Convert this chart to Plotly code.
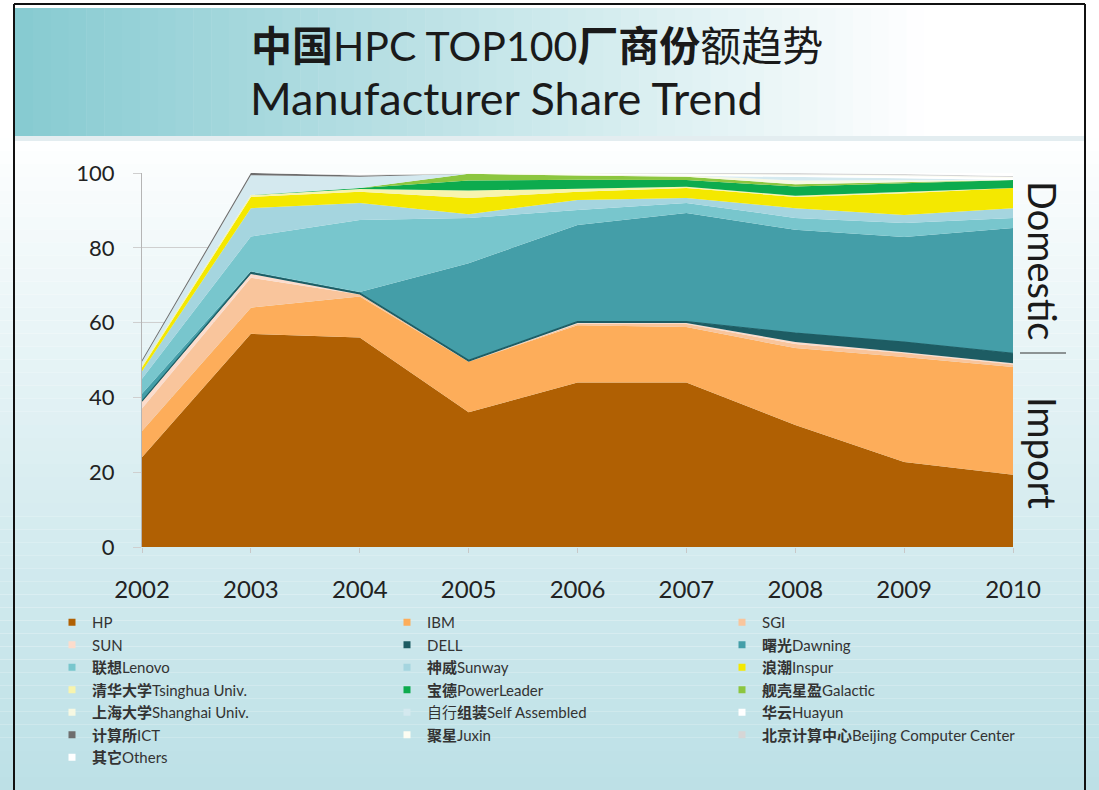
import plotly.graph_objects as go

# ---------------- data ----------------
years = [2002, 2003, 2004, 2005, 2006, 2007, 2008, 2009, 2010]
y_ticks = [0, 20, 40, 60, 80, 100]

hp          = [24.0, 57.0, 56.0, 36.0, 44.0, 44.0, 32.6, 22.7, 19.3]
ibm         = [7.0, 7.0, 11.0, 13.5, 15.3, 14.8, 20.6, 28.1, 28.8]
sgi         = [6.0, 8.0, 0.5, 0.0, 0.4, 0.8, 1.1, 1.0, 0.7]
sun         = [2.0, 1.0, 0.0, 0.0, 0.2, 0.3, 0.5, 0.3, 0.3]
dell        = [0.0, 0.4, 0.4, 0.4, 0.4, 0.4, 2.4, 2.7, 2.7]
dawning     = [2.0, 0.3, 0.3, 26.0, 25.8, 29.0, 27.6, 28.1, 33.5]
lenovo      = [4.0, 9.3, 19.2, 12.1, 4.0, 2.7, 3.2, 3.7, 2.7]
sunway      = [2.0, 7.6, 4.6, 1.0, 2.7, 1.3, 2.6, 2.2, 2.6]
inspur      = [1.0, 3.0, 3.0, 4.3, 2.2, 2.7, 3.0, 5.8, 5.4]
tsinghua    = [0.5, 0.5, 0.7, 2.0, 0.8, 0.3, 0.3, 0.3, 0.0]
powerleader = [0.0, 0.0, 0.3, 2.7, 2.4, 1.8, 2.5, 2.4, 2.1]
galactic    = [0.0, 0.0, 0.0, 1.8, 1.1, 0.9, 0.6, 0.3, 0.0]
shanghai    = [0.0, 0.0, 0.0, 0.0, 0.3, 0.3, 1.0, 0.5, 0.0]
self_asm    = [1.0, 5.3, 3.0, 0.0, 0.0, 0.0, 1.0, 0.5, 0.0]
huayun      = [0.0, 0.0, 0.0, 0.0, 0.2, 0.3, 0.5, 0.5, 0.5]
ict         = [0.5, 0.6, 0.3, 0.0, 0.0, 0.0, 0.0, 0.0, 0.0]
juxin       = [0.0, 0.0, 0.0, 0.2, 0.2, 0.2, 0.3, 0.3, 0.3]
beijing_cc  = [0.0, 0.0, 0.2, 0.0, 0.0, 0.2, 0.2, 0.3, 0.3]
others      = [0.0, 0.0, 0.5, 0.0, 0.0, 0.0, 0.0, 0.3, 0.8]

names = ["HP", "IBM", "SGI", "SUN", "DELL", "<b>曙光</b>Dawning",
         "<b>联想</b>Lenovo", "<b>神威</b>Sunway", "<b>浪潮</b>Inspur",
         "<b>清华大学</b>Tsinghua Univ.", "<b>宝德</b>PowerLeader", "<b>舰壳星盈</b>Galactic",
         "<b>上海大学</b>Shanghai Univ.", "自行<b>组装</b>Self Assembled", "<b>华云</b>Huayun",
         "<b>计算所</b>ICT", "<b>聚星</b>Juxin", "<b>北京计算中心</b>Beijing Computer Center",
         "<b>其它</b>Others"]
values = [hp, ibm, sgi, sun, dell, dawning, lenovo, sunway, inspur, tsinghua,
          powerleader, galactic, shanghai, self_asm, huayun, ict, juxin, beijing_cc, others]
colors = ["#b06003", "#fdad5a", "#f9c59c", "#fcdccc", "#1d5c63", "#449ea8",
          "#78c6cd", "#a5d5df", "#f4e800", "#f7f4ad", "#0dab4e", "#8cc63f",
          "#f6f8e2", "#d4e9ef", "#ffffff", "#6e6e6e", "#fdfdf2", "#d6d6d6", "#ffffff"]

# ---------------- geometry helpers ----------------
W, H = 1099, 790
L, R, T, B = 142, 86, 173, 243
PW, PH = W - L - R, H - T - B
FONT = "Lato, 'Noto Sans CJK SC', sans-serif"


def px(x):
    return (x - L) / PW


def py(y):
    return (H - B - y) / PH


def lerp(c0, c1, t):
    return "rgb(%d,%d,%d)" % tuple(round(a + (b - a) * t) for a, b in zip(c0, c1))


fig = go.Figure()

for name, vals, col in zip(names, values, colors):
    lw = 1.2 if name == "DELL" else 0
    fig.add_trace(go.Scatter(
        x=years, y=vals, name=name, stackgroup="one", mode="lines",
        line=dict(width=lw, color=col), fillcolor=col, showlegend=False,
        hoverinfo="x+y+name"))

for name, col in zip(names, colors):
    fig.add_trace(go.Scatter(
        x=[None], y=[None], name=name, mode="markers",
        marker=dict(symbol="square", size=7, color=col), showlegend=True))

shapes = []
# main background: vertical gradient
N = 50
for i in range(N):
    y0 = 138 + i * (H - 138) / N
    y1 = 138 + (i + 1) * (H - 138) / N
    t = (i + 0.5) / N
    shapes.append(dict(type="rect", xref="paper", yref="paper",
                       x0=px(0), x1=px(W), y0=py(y1), y1=py(y0),
                       fillcolor=lerp((255, 255, 255), (188, 224, 230), t ** 0.9),
                       line=dict(width=0), layer="below"))
# title band: horizontal gradient
M = 60
for i in range(M):
    x0 = 15 + i * (1070 / M)
    x1 = 15 + (i + 1) * (1070 / M)
    t = min(1.0, (i + 0.5) / M / 0.85)
    shapes.append(dict(type="rect", xref="paper", yref="paper",
                       x0=px(x0), x1=px(x1 + 0.5), y0=py(136), y1=py(8),
                       fillcolor=lerp((134, 202, 209), (255, 255, 255), t),
                       line=dict(width=0), layer="below"))
shapes.append(dict(type="rect", xref="paper", yref="paper",
                   x0=px(15), x1=px(1085), y0=py(141), y1=py(136),
                   fillcolor="rgba(200,220,225,0.5)", line=dict(width=0), layer="below"))
# slide frame
shapes.append(dict(type="line", xref="paper", yref="paper",
                   x0=px(14), x1=px(1085), y0=py(4), y1=py(4),
                   line=dict(color="#111111", width=2)))
shapes.append(dict(type="line", xref="paper", yref="paper",
                   x0=px(14), x1=px(14), y0=py(4), y1=py(H),
                   line=dict(color="#111111", width=2)))
shapes.append(dict(type="line", xref="paper", yref="paper",
                   x0=px(1085), x1=px(1085), y0=py(4), y1=py(H),
                   line=dict(color="#111111", width=2)))
# separator between Domestic / Import
shapes.append(dict(type="line", xref="paper", yref="paper",
                   x0=px(1020), x1=px(1066), y0=py(353), y1=py(353),
                   line=dict(color="#333333", width=1.2)))

annotations = [
    dict(text="<b>中国</b>HPC TOP100<b>厂商份</b>额趋势", x=px(249), y=py(45),
         xref="paper", yref="paper", xanchor="left", yanchor="middle",
         showarrow=False, font=dict(family=FONT, size=41, color="#1a1a1a")),
    dict(text="Manufacturer Share Trend", x=px(248), y=py(98),
         xref="paper", yref="paper", xanchor="left", yanchor="middle",
         showarrow=False, font=dict(family=FONT, size=45, color="#1a1a1a")),
    dict(text="Domestic", x=px(1043), y=py(261), textangle=90,
         xref="paper", yref="paper", xanchor="center", yanchor="middle",
         showarrow=False, font=dict(family=FONT, size=38, color="#1a1a1a")),
    dict(text="Import", x=px(1043), y=py(453), textangle=90,
         xref="paper", yref="paper", xanchor="center", yanchor="middle",
         showarrow=False, font=dict(family=FONT, size=38, color="#1a1a1a")),
]

fig.update_layout(
    width=W, height=H,
    margin=dict(l=L, r=R, t=T, b=B),
    paper_bgcolor="white", plot_bgcolor="rgba(0,0,0,0)",
    font=dict(family=FONT, color="#333333"),
    shapes=shapes, annotations=annotations,
    showlegend=True,
    legend=dict(orientation="h", x=px(52), y=py(606), xanchor="left", yanchor="top",
                traceorder="normal",
                entrywidth=290, entrywidthmode="pixels",
                font=dict(family=FONT, size=15, color="#333333"),
                bgcolor="rgba(0,0,0,0)", itemclick=False, itemdoubleclick=False),
    xaxis=dict(range=[2002, 2010], tickvals=years, ticktext=[str(y) for y in years],
               showgrid=False, zeroline=False, showline=False,
               ticks="outside", ticklen=5, tickcolor="#c8c8c8",
               tickfont=dict(family=FONT, size=24, color="#222222"),
               ticklabelstandoff=16, fixedrange=True),
    yaxis=dict(range=[0, 100], tickvals=y_ticks, showgrid=True, gridcolor="#cfcfcf",
               gridwidth=1, zeroline=False, showline=True, linecolor="#b5b5b5",
               ticks="outside", ticklen=8, tickcolor="#cfcfcf",
               tickfont=dict(family=FONT, size=22, color="#222222"),
               ticklabelstandoff=14, fixedrange=True),
)

fig.write_html("out.html", config={"displayModeBar": False})
